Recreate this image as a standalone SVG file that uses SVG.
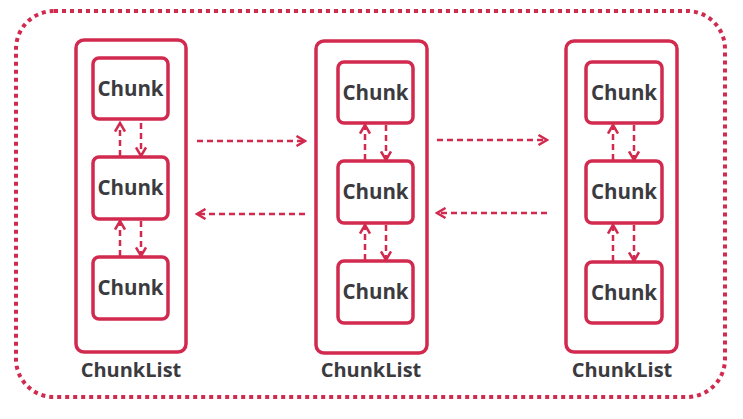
<svg xmlns="http://www.w3.org/2000/svg" width="743" height="419" viewBox="0 0 743 419">
<defs>
<style>
.outer{fill:none;stroke:#d12a4e;stroke-width:4;stroke-dasharray:4 4}
.list{fill:#fff;stroke:#d12a4e;stroke-width:3.5}
.chunk{fill:#fff;stroke:#d12a4e;stroke-width:3.5}
.t{font-family:"Open Sans","DejaVu Sans",sans-serif;font-weight:bold;font-size:20.5px;fill:#3b3b3f;text-anchor:middle}
.l{font-size:20px}
.c{fill:none;stroke:#d12a4e;stroke-width:2.5;stroke-dasharray:6 4}
</style>
<marker id="ah" viewBox="0 0 12 12" refX="10" refY="6" markerWidth="12" markerHeight="12" markerUnits="userSpaceOnUse" orient="auto">
<path d="M1.5,1 L10,6 L1.5,11" fill="none" stroke="#d12a4e" stroke-width="2.5"/>
</marker>
</defs>
<rect width="743" height="419" fill="#fff"/>
<rect class="outer" x="16" y="11" width="709" height="386" rx="38"/>
<g id="list1">
<rect class="list" x="76" y="40" width="110" height="312" rx="8"/>
<text class="t l" x="131" y="377">ChunkList</text>
</g>
<g id="list2">
<rect class="list" x="316" y="41" width="111" height="312" rx="8"/>
<text class="t l" x="371" y="377">ChunkList</text>
</g>
<g id="list3">
<rect class="list" x="566" y="41" width="111" height="311" rx="8"/>
<text class="t l" x="622" y="377">ChunkList</text>
</g>
<g id="l1c1"><rect class="chunk" x="93" y="58" width="75" height="61" rx="6"/><text class="t" x="130.5" y="96">Chunk</text></g>
<g id="l1c2"><rect class="chunk" x="93" y="157" width="75" height="62" rx="6"/><text class="t" x="130.5" y="195">Chunk</text></g>
<g id="l1c3"><rect class="chunk" x="93" y="257" width="75" height="62" rx="6"/><text class="t" x="130.5" y="295">Chunk</text></g>
<g id="l2c1"><rect class="chunk" x="338" y="62" width="75" height="61" rx="6"/><text class="t" x="375.5" y="100">Chunk</text></g>
<g id="l2c2"><rect class="chunk" x="338" y="161" width="75" height="62" rx="6"/><text class="t" x="375.5" y="199">Chunk</text></g>
<g id="l2c3"><rect class="chunk" x="338" y="261" width="75" height="62" rx="6"/><text class="t" x="375.5" y="299">Chunk</text></g>
<g id="l3c1"><rect class="chunk" x="586" y="62" width="76" height="61" rx="6"/><text class="t" x="624" y="100">Chunk</text></g>
<g id="l3c2"><rect class="chunk" x="586" y="161" width="76" height="62" rx="6"/><text class="t" x="624" y="199">Chunk</text></g>
<g id="l3c3"><rect class="chunk" x="586" y="262" width="76" height="61" rx="6"/><text class="t" x="624" y="300">Chunk</text></g>
<g id="connectors" marker-end="url(#ah)">
<path class="c" d="M120,156 V123"/>
<path class="c" d="M141,123 V156"/>
<path class="c" d="M120,256 V221"/>
<path class="c" d="M141,221 V256"/>
<path class="c" d="M365,160 V125"/>
<path class="c" d="M386,125 V160"/>
<path class="c" d="M365,260 V225"/>
<path class="c" d="M386,225 V260"/>
<path class="c" d="M613,160 V125"/>
<path class="c" d="M634,125 V160"/>
<path class="c" d="M613,261 V225"/>
<path class="c" d="M634,225 V261"/>
<path class="c" d="M197,141 H305"/>
<path class="c" d="M305,214 H197"/>
<path class="c" d="M437,140 H547"/>
<path class="c" d="M547,213 H437"/>
</g>
</svg>
